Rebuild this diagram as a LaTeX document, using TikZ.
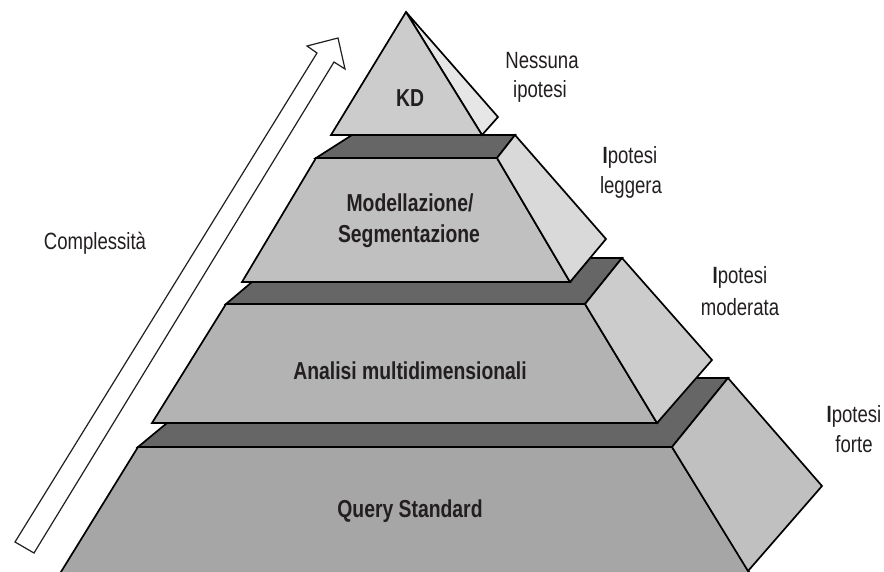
\documentclass[tikz,border=0pt]{standalone}
\usepackage{fontspec}
\setmainfont{Liberation Sans}[FakeStretch=0.79]
\definecolor{bandgray}{HTML}{666666}
\definecolor{kdfront}{HTML}{CCCCCC}
\definecolor{kdside}{HTML}{E6E6E6}
\definecolor{lbfront}{HTML}{C0C0C0}
\definecolor{lbside}{HTML}{D9D9D9}
\definecolor{lcfront}{HTML}{B3B3B3}
\definecolor{lcside}{HTML}{CCCCCC}
\definecolor{ldfront}{HTML}{A6A6A6}
\definecolor{ldside}{HTML}{C0C0C0}
\definecolor{txt}{HTML}{231F20}
\tikzset{
  face/.style={draw=black, line width=1.7pt, line join=miter},
  bandface/.style={face, fill=bandgray},
  lvl/.style={font=\bfseries\fontsize{24.5}{28}\selectfont, text=txt, inner sep=0pt, anchor=base},
  hyp/.style={font=\fontsize{23.5}{26}\selectfont, text=txt, inner sep=0pt, anchor=base},
  arrowbody/.style={draw=txt, fill=white, line width=1.2pt, line join=miter}
}
\begin{document}
\begin{tikzpicture}[x=1pt,y=-1pt]
\clip (0,0) rectangle (884,571);
\fill[white] (0,0) rectangle (884,571);

% complexity arrow
\draw[arrowbody] (15,542) -- (317,53) -- (307,46) -- (338,38) -- (345,69) -- (334,62) -- (34,553) -- cycle;

% level 4 (bottom)
\draw[bandface] (167,423) -- (657,423) -- (695,378) -- (728,378) -- (672,447) -- (138,447) -- cycle;
\draw[face, fill=ldfront] (138,447) -- (672,447) -- (754,580) -- (56,580) -- cycle;
\draw[face, fill=ldside] (672,447) -- (728,378) -- (822,486) -- (748,571) -- cycle;

% level 3
\draw[bandface] (252,282) -- (570,282) -- (590,258) -- (622,258) -- (585,304) -- (226,304) -- cycle;
\draw[face, fill=lcfront] (226,304) -- (585,304) -- (657,423) -- (152,423) -- cycle;
\draw[face, fill=lcside] (585,304) -- (622,258) -- (712,360) -- (657,423) -- cycle;

% level 2
\draw[bandface] (352,135) -- (515,135) -- (497,158) -- (316,158) -- cycle;
\draw[face, fill=lbfront] (316,158) -- (497,158) -- (570,282) -- (242,282) -- cycle;
\draw[face, fill=lbside] (497,158) -- (515,135) -- (606,239) -- (570,282) -- cycle;

% level 1 (KD)
\draw[face, fill=kdside] (406,12) -- (498,117) -- (482,135) -- cycle;
\draw[face, fill=kdfront] (406,12) -- (482,135) -- (331,135) -- cycle;

% level labels
\node[lvl] (kd) at (410,106) {KD};
\node[lvl] (mod) at (410,211) {Modellazione/};
\node[lvl] (seg) at (409,242) {Segmentazione};
\node[lvl] (ana) at (410,379) {Analisi multidimensionali};
\node[lvl] (qry) at (410,517) {Query Standard};

% side labels
\node[hyp] (cpx) at (95,249) {Complessità};
\node[hyp] (h1a) at (542,68) {Nessuna};
\node[hyp] (h1b) at (540,97) {ipotesi};
\node[hyp] (h2a) at (630,163) {\textbf{I}potesi};
\node[hyp] (h2b) at (631,193) {leggera};
\node[hyp] (h3a) at (740,283) {\textbf{I}potesi};
\node[hyp] (h3b) at (740,315) {moderata};
\node[hyp] (h4a) at (854,422) {\textbf{I}potesi};
\node[hyp] (h4b) at (854,452) {forte};
\end{tikzpicture}
\end{document}
